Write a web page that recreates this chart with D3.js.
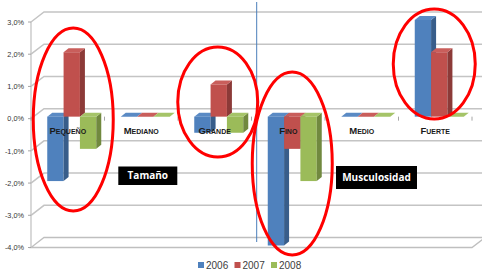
<!DOCTYPE html>
<html><head><meta charset="utf-8">
<script src="https://cdnjs.cloudflare.com/ajax/libs/d3/7.8.5/d3.min.js"></script>
<style>html,body{margin:0;padding:0;background:#fff;overflow:hidden}</style>
</head><body>
<script>
const categories = ["Pequeño","Mediano","Grande","Fino","Medio","Fuerte"];
const years = ["2006","2007","2008"];
const v2006 = [-2, 0, -0.5, -4, 0, 3];
const v2007 = [2, 0, 1, -1, 0, 2];
const v2008 = [-1, 0, -0.5, -2, 0, 0];
const yTicks = [3, 2, 1, 0, -1, -2, -3, -4];
const tickLabels = ["3,0%","2,0%","1,0%","0,0%","-1,0%","-2,0%","-3,0%","-4,0%"];
const groupLabels = ["Tamaño","Musculosidad"];
const seriesValues = [v2006, v2007, v2008];
const colors = {front:["#4f81bd","#c0504d","#9bbb59"], side:["#385d8a","#8c3a38","#71893f"], top:["#5a8ac4","#c95e5b","#a5c468"]};

const W = 482, H = 271;
const svg = d3.select("body").append("svg").attr("width", W).attr("height", H);

const x = d3.scaleBand().domain(categories).range([31, 472]).paddingInner(0).paddingOuter(0);
const xi = d3.scaleBand().domain(years).range([0, x.bandwidth()]).paddingInner(0).paddingOuter(0.75);
const y = d3.scaleLinear().domain([-4, 3]).range([247.5, 22]);

const wallDx = 13, wallDy = -10;
const planeDx = 4, planeDy = -2;
const barDx = 5, barDy = -4;

const grid = svg.append("g");
const x0 = x.range()[0], x1 = x.range()[1];
grid.append("path").attr("d", `M${x0},${y(-4)}L${x1},${y(-4)}L${x1+wallDx},${y(-4)+wallDy}L${x0+wallDx},${y(-4)+wallDy}Z`)
  .attr("fill","#fff").attr("stroke","#bfbfbf").attr("stroke-width",1.3);
yTicks.forEach(t => {
  if (t === -4) return;
  grid.append("path").attr("d", `M${x0},${y(t)}L${x0+wallDx},${y(t)+wallDy}L${W+5},${y(t)+wallDy}`)
    .attr("fill","none").attr("stroke","#c4c4c4").attr("stroke-width",1.5);
});
grid.append("line").attr("x1",x0).attr("x2",x0).attr("y1",y(3)).attr("y2",y(-4)).attr("stroke","#bfbfbf").attr("stroke-width",1.2);

const yAxis = svg.append("g");
yTicks.forEach((t,i) => {
  yAxis.append("line").attr("x1",x0-3).attr("x2",x0).attr("y1",y(t)).attr("y2",y(t)).attr("stroke","#a6a6a6");
  yAxis.append("text").attr("x",x0-7).attr("y",y(t)+2.7).attr("text-anchor","end")
    .attr("font-family","Liberation Sans, Arial, sans-serif").attr("font-size",7.3).attr("fill","#333").text(tickLabels[i]);
});

d3.range(categories.length+1).forEach(k => {
  const xx = x0 + k*x.step();
  svg.append("line").attr("x1",xx).attr("x2",xx).attr("y1",y(0)-2).attr("y2",y(0)+2).attr("stroke","#a6a6a6");
});

const bars = svg.append("g");
categories.forEach((c, ci) => {
  years.forEach((yr, si) => {
    const v = seriesValues[si][ci];
    const bx0 = x(c) + xi(yr) + planeDx, bx1 = bx0 + xi.bandwidth();
    const yT = Math.min(y(v), y(0)) + planeDy, yB = Math.max(y(v), y(0)) + planeDy;
    if (yB - yT > 0.1) {
      bars.append("rect").attr("x",bx0).attr("y",yT).attr("width",bx1-bx0).attr("height",yB-yT).attr("fill",colors.front[si]);
      bars.append("path").attr("d",`M${bx1},${yT}L${bx1+barDx},${yT+barDy}L${bx1+barDx},${yB+barDy}L${bx1},${yB}Z`).attr("fill",colors.side[si]);
    }
    bars.append("path").attr("d",`M${bx0},${yT}L${bx1},${yT}L${bx1+barDx},${yT+barDy}L${bx0+barDx},${yT+barDy}Z`).attr("fill",colors.top[si]);
  });
});

categories.forEach(c => {
  svg.append("text").attr("x", x(c)+x.bandwidth()/2).attr("y", y(0)+15.5).attr("text-anchor","middle")
    .attr("font-family","Liberation Sans, Arial, sans-serif").attr("font-size",9.5).attr("font-weight","bold")
    .style("font-variant","small-caps").attr("fill","#1a1a1a").text(c);
});

svg.append("line").attr("x1",256.7).attr("x2",256.7).attr("y1",2).attr("y2",242).attr("stroke","#4a7ebb").attr("stroke-width",1);

const boxes = [{t:groupLabels[0], x:118.3, y:166.5, w:59, h:18.5}, {t:groupLabels[1], x:336, y:166, w:81, h:23}];
boxes.forEach(b => {
  svg.append("rect").attr("x",b.x).attr("y",b.y).attr("width",b.w).attr("height",b.h).attr("fill","#000");
  svg.append("text").attr("x",b.x+b.w/2).attr("y",b.y+b.h/2+3.6).attr("text-anchor","middle")
    .attr("font-family","Open Sans, Liberation Sans, sans-serif").attr("font-weight","bold").attr("font-size",10).attr("fill","#fff").text(b.t);
});

const ell = [
  {c:"Pequeño", dx:5.5, cy:119.5, rx:40, ry:91.5},
  {c:"Grande", dx:3, cy:102, rx:40, ry:55},
  {c:"Fino", dx:4, cy:163.5, rx:40, ry:91.5},
  {c:"Fuerte", dx:-1, cy:64, rx:41, ry:55}
];
ell.forEach(e => {
  svg.append("ellipse").attr("cx", x(e.c)+x.bandwidth()/2+e.dx).attr("cy", e.cy).attr("rx", e.rx).attr("ry", e.ry)
    .attr("fill","none").attr("stroke","#ff0000").attr("stroke-width",3);
});

const lg = svg.append("g");
years.forEach((yr,i) => {
  const lx = 198 + i*36.5;
  lg.append("rect").attr("x",lx).attr("y",262).attr("width",6).attr("height",6).attr("fill",colors.front[i]);
  lg.append("text").attr("x",lx+8).attr("y",268.5).attr("font-family","Liberation Sans, Arial, sans-serif")
    .attr("font-size",10).attr("fill","#404040").text(yr);
});
</script>
</body></html>
